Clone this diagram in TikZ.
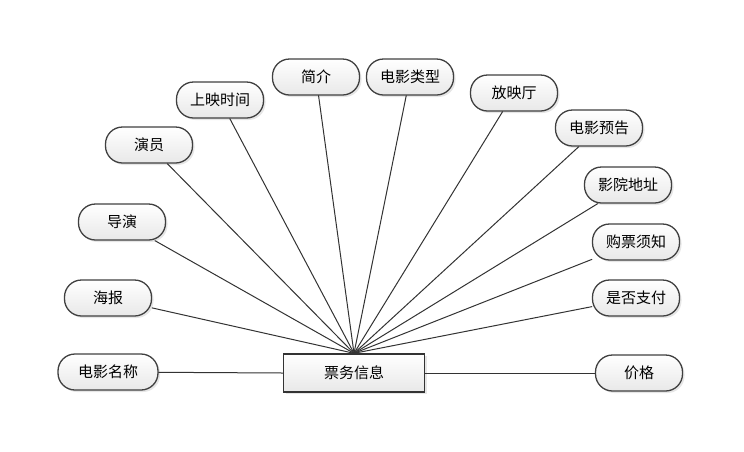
\documentclass[tikz,border=0pt]{standalone}
\usepackage{fontspec}
\setmainfont{Noto Sans CJK SC}
\usetikzlibrary{shadows}

\begin{document}
\begin{tikzpicture}[x=1pt,y=-1pt,line cap=round]
	\tikzstyle{shuxing}=[rectangle,rounded corners=17pt,draw=black!75,line width=1.3pt,
		top color=white,bottom color=black!9,minimum width=87pt,minimum height=36pt,
		inner sep=1pt,font=\fontsize{15}{17}\selectfont,
		drop shadow={opacity=.2,shadow xshift=2pt,shadow yshift=-2pt}];
	\tikzstyle{shiti}=[rectangle,draw=black!80,line width=1.4pt,
		top color=white,bottom color=black!9,minimum width=141pt,minimum height=38pt,
		inner sep=1pt,font=\fontsize{15}{17}\selectfont,
		drop shadow={opacity=.2,shadow xshift=2pt,shadow yshift=-2pt}];
	\tikzstyle{lian}=[draw=black!80,line width=1pt];
	\useasboundingbox (0,0) rectangle (744,451);
	%% entity
	\node[shiti] (piao) at (354,373) {票务信息};
	%% attributes
	\node[shuxing,minimum width=100pt] (mingcheng) at (108,372) {电影名称};
	\node[shuxing] (haibao)   at (108,298) {海报};
	\node[shuxing] (daoyan)   at (122,222) {导演};
	\node[shuxing] (yanyuan)  at (149,145) {演员};
	\node[shuxing] (shijian)  at (220,100) {上映时间};
	\node[shuxing] (jianjie)  at (316,77)  {简介};
	\node[shuxing] (leixing)  at (410,77)  {电影类型};
	\node[shuxing] (fangying) at (514,93)  {放映厅};
	\node[shuxing] (yugao)    at (599,128) {电影预告};
	\node[shuxing] (dizhi)    at (628,185) {影院地址};
	\node[shuxing] (xuzhi)    at (636,242) {购票须知};
	\node[shuxing] (zhifu)    at (636,298) {是否支付};
	\node[shuxing] (jiage)    at (639,373) {价格};
	%% lines
	\draw[lian] (piao.west) -- (mingcheng);
	\draw[lian] (piao.east) -- (jiage);
	\foreach \n in {haibao,daoyan,yanyuan,shijian,jianjie,leixing,fangying,yugao,dizhi,xuzhi,zhifu}
		\draw[lian] (piao.north) -- (\n);
\end{tikzpicture}
\end{document}
